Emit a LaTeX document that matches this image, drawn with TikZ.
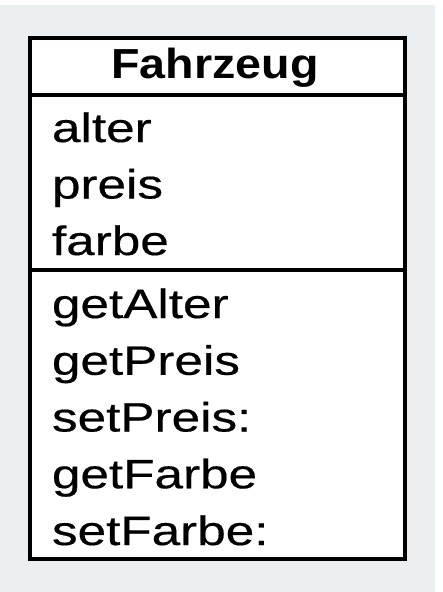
\documentclass[tikz,border=0pt]{standalone}
\usepackage{fontspec}
\usepackage{tikz}
\newfontfamily\umlbody[FakeStretch=1.25,FakeBold=0.4]{Liberation Sans}
\newfontfamily\umltitle[FakeStretch=1.11]{Liberation Sans Bold}
\definecolor{bggray}{RGB}{236,239,241}

\begin{document}
\begin{tikzpicture}[x=1pt, y=-1pt, line width=4pt,
    every node/.style={inner sep=0pt, outer sep=0pt},
    member/.style={anchor=base west, font=\umlbody\fontsize{41}{41}\selectfont},
    classname/.style={anchor=base, font=\umltitle\fontsize{42}{42}\selectfont}]
    \useasboundingbox (0,0) rectangle (442,592);
    \fill[bggray] (0,5) rectangle (435,592);
    \fill[white] (30,38) rectangle (405,559);
    % class box
    \coordinate (nw) at (30,38);
    \coordinate (se) at (405,559);
    \coordinate (d1w) at (30,95);
    \coordinate (d1e) at (405,95);
    \coordinate (d2w) at (30,270);
    \coordinate (d2e) at (405,270);
    \draw (nw) rectangle (se);
    \draw (d1w) -- (d1e);
    \draw (d2w) -- (d2e);
    \node[classname] (title) at (215,78) {Fahrzeug};
    % attributes
    \node[member] (alter) at (52,142) {alter};
    \node[member] (preis) at (52,198.5) {preis};
    \node[member] (farbe) at (52,255) {farbe};
    % methods
    \node[member] (getalter) at (52,318) {getAlter};
    \node[member] (getpreis) at (52,374.75) {getPreis};
    \node[member] (setpreis) at (52,431.5) {setPreis:};
    \node[member] (getfarbe) at (52,488.25) {getFarbe};
    \node[member] (setfarbe) at (52,545) {setFarbe:};
  \end{tikzpicture}
\end{document}
